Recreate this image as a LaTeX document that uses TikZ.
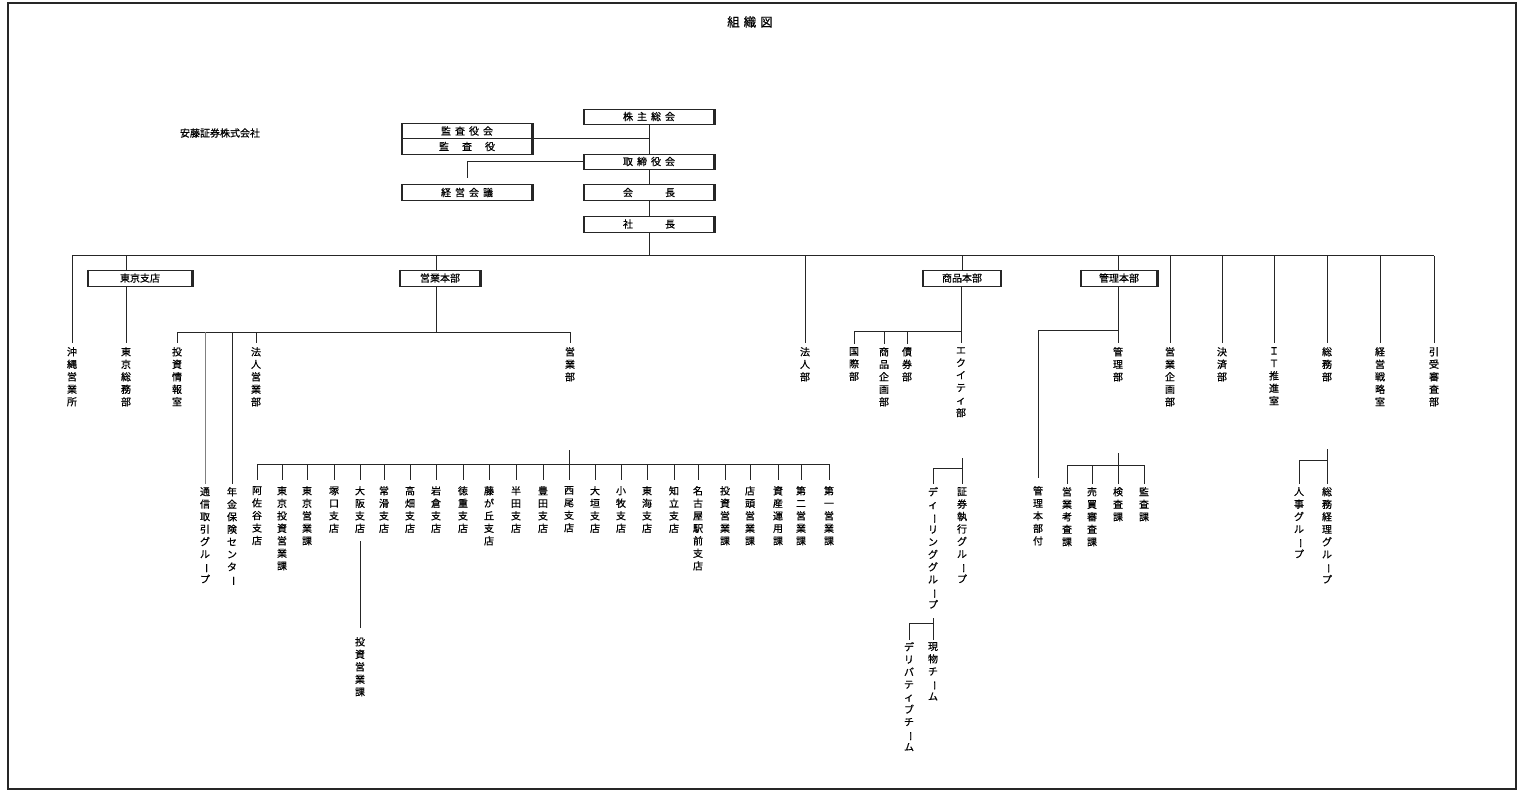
\documentclass[tikz,border=0pt]{standalone}
\usepackage{fontspec}
\setmainfont{Noto Sans CJK JP}[FakeBold=0.6]
\usepackage{graphicx}
\newcommand{\chb}{\rotatebox[origin=c]{-90}{ー}}
\newcommand{\gp}{\hspace{4pt}}
\tikzset{
  ln/.style={line width=1pt, draw=black!85},
  bx/.style={draw=black!85, line width=0.9pt, inner sep=0pt, minimum height=16pt,
    font=\fontsize{10}{12}\selectfont,
    path picture={\draw[black!85,line width=3.6pt]
      (path picture bounding box.north west) -- (path picture bounding box.south west)
      (path picture bounding box.north east) -- (path picture bounding box.south east);}},
  vt/.style={anchor=north, align=center, inner sep=0pt, font=\fontsize{10}{12.5}\selectfont},
}
\begin{document}
\begin{tikzpicture}[x=1pt,y=-1pt]
\useasboundingbox (0,0) rectangle (1522,791);
\draw[line width=1.2pt, black!85] (8,3) rectangle (1516,789);

\node[font=\fontsize{12.5}{14}\selectfont] (title) at (750,22) {組\gp 織\gp 図};
\node[font=\fontsize{10}{12}\selectfont] (company) at (220,133) {安藤証券株式会社};

% top boxes
\node[bx, minimum width=132pt, minimum height=15pt] (kabu) at (649,116.5) {株\gp 主\gp 総\gp 会};
\node[bx, minimum width=132pt, minimum height=15pt] (kansakai) at (467,131) {監\gp 査\gp 役\gp 会};
\node[bx, minimum width=132pt, minimum height=16pt] (kansa) at (467,146.5) {監\hspace{1.3em}査\hspace{1.3em}役};
\node[bx, minimum width=132pt, minimum height=15pt] (tori) at (649,161.5) {取\gp 締\gp 役\gp 会};
\node[bx, minimum width=132pt] (keiei) at (467,192.5) {経\gp 営\gp 会\gp 議};
\node[bx, minimum width=132pt] (kaicho) at (649,192.5) {会\hspace{3.2em}長};
\node[bx, minimum width=132pt] (shacho) at (649,224) {社\hspace{3.2em}長};

\draw[ln] (kabu.south) -- (tori.north);
\draw[ln] (kansakai.south east) -- (kansakai.south east -| kabu.south);
\draw[ln] (tori.west) -| ([yshift=6pt]keiei.north);
\draw[ln] (tori.south) -- (kaicho.north);
\draw[ln] (kaicho.south) -- (shacho.north);
\coordinate (busL) at (72,256);
\coordinate (busR) at (1434,256);
\draw[ln] (shacho.south) -- (shacho.south |- busL);
\draw[ln] (busL) -- (busR);

% level 1 texts
\node[vt] (okinawa) at (72,347) {沖\\縄\\営\\業\\所};
\node[vt] (tsomu) at (126,347) {東\\京\\総\\務\\部};
\node[vt] (tjoho) at (177,347) {投\\資\\情\\報\\室};
\node[vt] (heigyo) at (256,347) {法\\人\\営\\業\\部};
\node[vt] (eigyobu) at (570,347) {営\\業\\部};
\node[vt] (houjin) at (805,347) {法\\人\\部};
\node[vt] (kokusai) at (854,347) {国\\際\\部};
\node[vt] (skikaku) at (884,347) {商\\品\\企\\画\\部};
\node[vt] (saiken) at (907,347) {債\\券\\部};
\node[vt] (equity) at (961,347) {エ\\ク\\イ\\テ\\ィ\\部};
\node[vt] (kanri) at (1118,347) {管\\理\\部};
\node[vt] (ekikaku) at (1170,347) {営\\業\\企\\画\\部};
\node[vt] (kessai) at (1222,347) {決\\済\\部};
\node[vt] (itsuishin) at (1274,347) {Ｉ\\Ｔ\\推\\進\\室};
\node[vt] (soumu) at (1327,347) {総\\務\\部};
\node[vt] (senryaku) at (1380,347) {経\\営\\戦\\略\\室};
\node[vt] (hikiuke) at (1434,347) {引\\受\\審\\査\\部};

% level 2 boxes
\node[bx, minimum width=106pt] (tshiten) at (140,278) {東京支店};
\node[bx, minimum width=82pt] (ehonbu) at (440,278) {営業本部};
\node[bx, minimum width=79pt] (shonbu) at (962,278) {商品本部};
\node[bx, minimum width=78pt] (khonbu) at (1119,278) {管理本部};

\foreach \n in {okinawa,houjin,ekikaku,kessai,itsuishin,soumu,senryaku,hikiuke}
  \draw[ln] (\n.north |- busL) -- ([yshift=4pt]\n.north);

% Tokyo branch
\draw[ln] (tsomu.north |- busL) -- (tsomu.north |- tshiten.north);
\draw[ln] (tsomu.north |- tshiten.south) -- ([yshift=4pt]tsomu.north);

% Sales HQ
\coordinate (eb) at (436,332);
\draw[ln] (eb |- busL) -- (eb |- ehonbu.north);
\draw[ln] (eb |- ehonbu.south) -- (eb);
\draw[ln] (tjoho.north |- eb) -- (eigyobu.north |- eb);
\foreach \n in {tjoho,heigyo,eigyobu}
  \draw[ln] (\n.north |- eb) -- ([yshift=4pt]\n.north);

\node[vt] (tsushin) at (205,487) {通\\信\\取\\引\\グ\\ル\\\chb\\プ};
\node[vt] (nenkin) at (232,487) {年\\金\\保\\険\\セ\\ン\\タ\\\chb};
\draw[ln, draw=black!50] (tsushin.north |- eb) -- ([yshift=3pt]tsushin.north);
\draw[ln] (nenkin.north |- eb) -- ([yshift=3pt]nenkin.north);

% branches
\coordinate (brbus) at (0,464);
\foreach \x/\t [count=\i] in {
  257/{阿\\佐\\谷\\支\\店},
  282/{東\\京\\投\\資\\営\\業\\課},
  307/{東\\京\\営\\業\\課},
  334/{塚\\口\\支\\店},
  360/{大\\阪\\支\\店},
  384/{常\\滑\\支\\店},
  410/{高\\畑\\支\\店},
  436/{岩\\倉\\支\\店},
  463/{徳\\重\\支\\店},
  489/{藤\\が\\丘\\支\\店},
  516/{半\\田\\支\\店},
  543/{豊\\田\\支\\店},
  569/{西\\尾\\支\\店},
  595/{大\\垣\\支\\店},
  621/{小\\牧\\支\\店},
  647/{東\\海\\支\\店},
  674/{知\\立\\支\\店},
  698/{名\\古\\屋\\駅\\前\\支\\店},
  725/{投\\資\\営\\業\\課},
  750/{店\\頭\\営\\業\\課},
  778/{資\\産\\運\\用\\課},
  801/{第\\二\\営\\業\\課},
  829/{第\\一\\営\\業\\課}} {
  \node[vt] (b\i) at (\x,486) {\t};
  \draw[ln] (b\i.north |- brbus) -- ([yshift=6pt]b\i.north);
}
\draw[ln] (b1.north |- brbus) -- (b23.north |- brbus);
\draw[ln] (b13.north |- brbus) -- ++(0,-14);

\node[vt] (toeigyo) at (360,637) {投\\資\\営\\業\\課};
\draw[ln] ([yshift=-8pt]b5.south) -- ([yshift=9pt]toeigyo.north);

% Products HQ
\coordinate (sb) at (961,331);
\draw[ln] (shonbu.north |- busL) -- (shonbu.north);
\draw[ln] (sb |- shonbu.south) -- ([yshift=4pt]equity.north);
\draw[ln] (kokusai.north |- sb) -- (sb);
\foreach \n in {kokusai,skikaku,saiken}
  \draw[ln] (\n.north |- sb) -- ([yshift=3pt]\n.north);

\node[vt] (shoken) at (962,487) {証\\券\\執\\行\\グ\\ル\\\chb\\プ};
\node[vt] (dealing) at (933,487) {デ\\ィ\\\chb\\リ\\ン\\グ\\グ\\ル\\\chb\\プ};
\draw[ln] ([yshift=29pt]shoken.north) -- ([yshift=3pt]shoken.north);
\draw[ln] ([yshift=19pt]shoken.north) -| ([yshift=3pt]dealing.north);
\node[vt] (genbutsu) at (933,642) {現\\物\\チ\\\chb\\ム};
\node[vt] (deriv) at (909,642) {デ\\リ\\バ\\テ\\ィ\\ブ\\チ\\\chb\\ム};
\draw[ln] ([yshift=24pt]genbutsu.north) -- ([yshift=2pt]genbutsu.north);
\draw[ln] ([yshift=19pt]genbutsu.north) -| ([yshift=2pt]deriv.north);

% Administration HQ
\coordinate (kb) at (1118,330);
\draw[ln] (kb |- busL) -- (kb |- khonbu.north);
\draw[ln] (kb |- khonbu.south) -- ([yshift=4pt]kanri.north);
\node[vt] (kfuzoku) at (1038,486) {管\\理\\本\\部\\付};
\draw[ln] (kb) -- (kfuzoku.north |- kb) -- ([yshift=8pt]kfuzoku.north);

\coordinate (kk) at (1118,465);
\node[vt] (eikosa) at (1067,487) {営\\業\\考\\査\\課};
\node[vt] (baibai) at (1092,487) {売\\買\\審\\査\\課};
\node[vt] (kensa) at (1118,487) {検\\査\\課};
\node[vt] (kansaka) at (1144,487) {監\\査\\課};
\draw[ln] (kk) -- ++(0,-12);
\draw[ln] (eikosa.north |- kk) -- (kansaka.north |- kk);
\foreach \n in {eikosa,baibai,kensa,kansaka}
  \draw[ln] (\n.north |- kk) -- ([yshift=3pt]\n.north);

\node[vt] (jinji) at (1299,487) {人\\事\\グ\\ル\\\chb\\プ};
\node[vt] (skeiri) at (1327,487) {総\\務\\経\\理\\グ\\ル\\\chb\\プ};
\draw[ln] ([yshift=38pt]skeiri.north) -- ([yshift=3pt]skeiri.north);
\draw[ln] ([yshift=27pt]skeiri.north) -| ([yshift=3pt]jinji.north);
\end{tikzpicture}
\end{document}
